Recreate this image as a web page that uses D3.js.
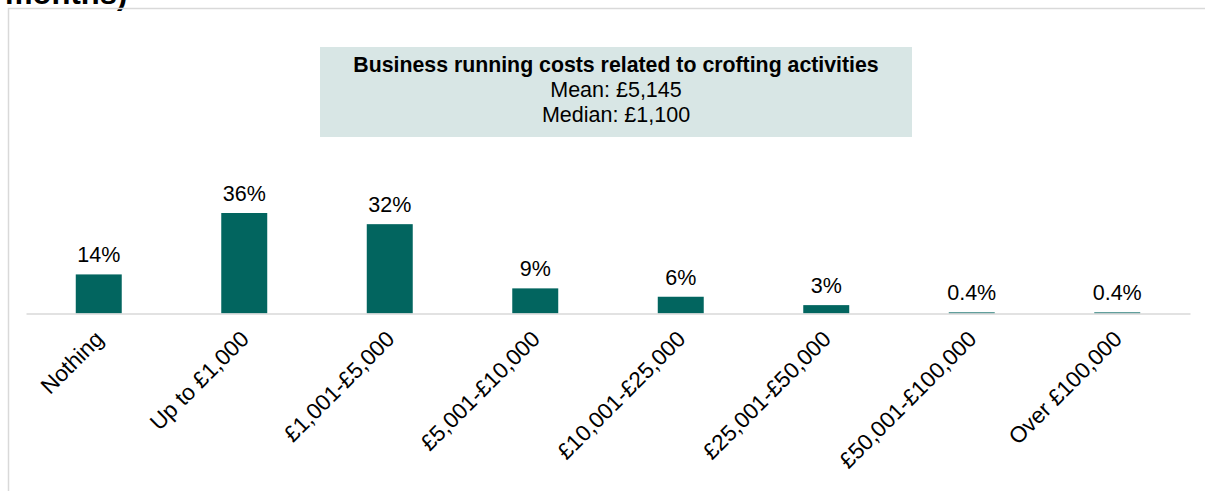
<!DOCTYPE html>
<html>
<head>
<meta charset="utf-8">
<script src="https://cdn.jsdelivr.net/npm/d3@7"></script>
<style>
  html, body { margin: 0; padding: 0; background: #fff; }
  svg { display: block; font-family: "Liberation Sans", Arial, sans-serif; }
</style>
</head>
<body>
<svg id="chart" width="1205" height="491"></svg>
<script>
// Business running costs bands and share of respondents (%)
const categories = ["Nothing", "Up to £1,000", "£1,001-£5,000", "£5,001-£10,000",
  "£10,001-£25,000", "£25,001-£50,000", "£50,001-£100,000", "Over £100,000"];
const values = [14, 36, 32, 9, 6, 3, 0.4, 0.4];
const valueLabels = ["14%", "36%", "32%", "9%", "6%", "3%", "0.4%", "0.4%"];
const boxTitle = "Business running costs related to crofting activities";
const boxLines = ["Mean: £5,145", "Median: £1,100"];

const svg = d3.select("#chart");
const W = 1205, H = 491;

// cropped heading from the section above
svg.append("text")
  .attr("x", 5).attr("y", 4)
  .attr("font-size", 31).attr("font-weight", "bold").attr("fill", "#000")
  .text("months)");

// chart frame (top and left edges)
svg.append("path")
  .attr("d", `M8.5,${H} V8.5 H${W}`)
  .attr("fill", "none").attr("stroke", "#d9d9d9").attr("stroke-width", 1.5);

const baseY = 313.5;
const x = d3.scaleBand().domain(categories).range([26, 1190]).paddingInner(0.684).paddingOuter(0.342);
const y = d3.scaleLinear().domain([0, 36]).range([baseY, 213]);

// summary box
const box = svg.append("g");
box.append("rect")
  .attr("x", 320).attr("y", 47).attr("width", 592).attr("height", 90)
  .attr("fill", "#d8e6e5");
box.append("text")
  .attr("x", 616).attr("y", 72).attr("text-anchor", "middle")
  .attr("font-size", 21.3).attr("font-weight", "bold").attr("fill", "#000")
  .text(boxTitle);
box.selectAll("text.line").data(boxLines).join("text")
  .attr("class", "line")
  .attr("x", 616).attr("y", (d, i) => 97 + i * 25).attr("text-anchor", "middle")
  .attr("font-size", 21.5).attr("fill", "#000")
  .text(d => d);

// bars
svg.append("g").selectAll("rect").data(values).join("rect")
  .attr("x", (d, i) => x(categories[i]))
  .attr("width", x.bandwidth())
  .attr("y", d => y(d))
  .attr("height", d => baseY - y(d))
  .attr("fill", "#02655f");

// baseline / axis
const axis = d3.axisBottom(x).tickSize(0).tickSizeOuter(0);
const gx = svg.append("g").attr("transform", `translate(0,${baseY})`).call(axis);
gx.attr("font-size", null).attr("font-family", null);
gx.select(".domain").attr("stroke", "#d9d9d9").attr("stroke-width", 1.5);
gx.selectAll(".tick text")
  .attr("font-size", 22.5).attr("fill", "#000")
  .attr("text-anchor", "end")
  .attr("dy", null)
  .attr("transform", "translate(6,27) rotate(-45)")
  .attr("y", 0).attr("x", 0);

// value labels
svg.append("g").selectAll("text").data(values).join("text")
  .attr("x", (d, i) => x(categories[i]) + x.bandwidth() / 2)
  .attr("y", d => y(d) - 12)
  .attr("text-anchor", "middle")
  .attr("font-size", 21.5).attr("fill", "#000")
  .text((d, i) => valueLabels[i]);
</script>
</body>
</html>
